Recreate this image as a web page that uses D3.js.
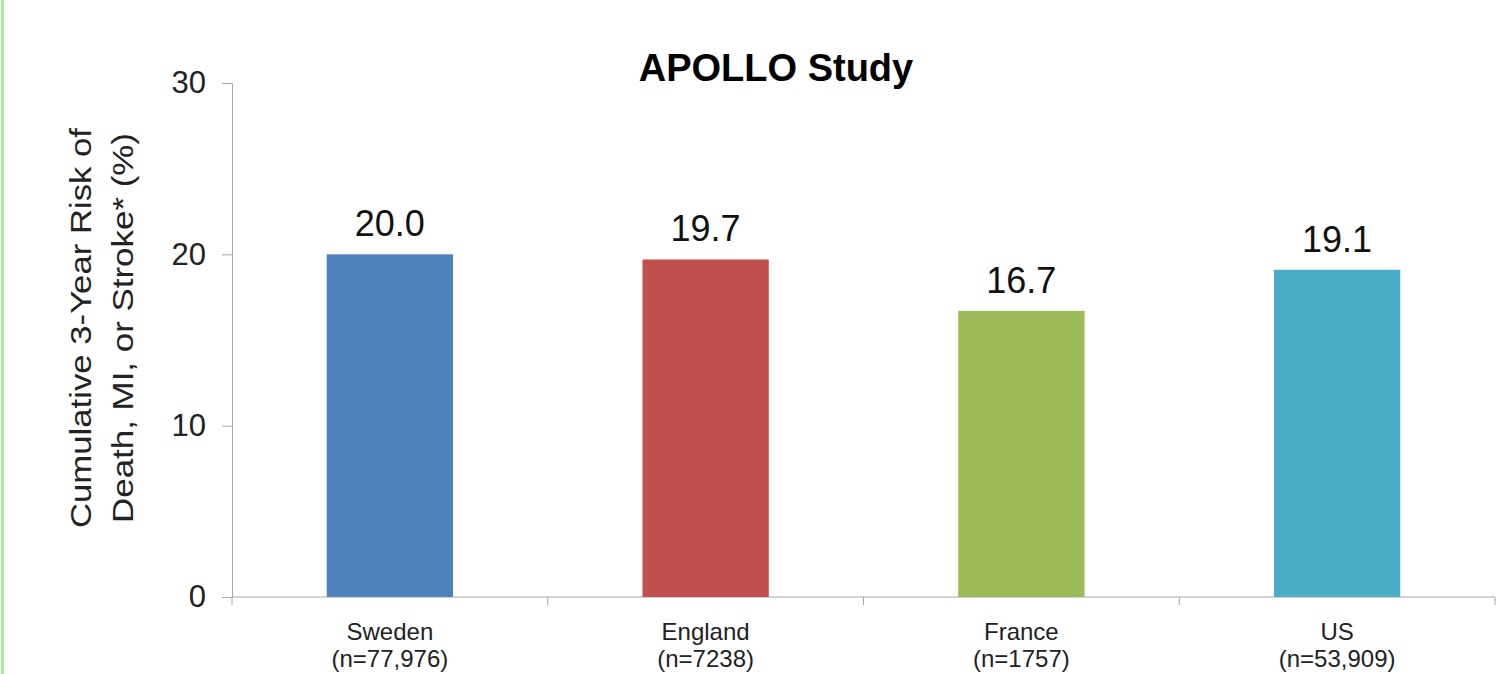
<!DOCTYPE html>
<html>
<head>
<meta charset="utf-8">
<script src="https://cdn.jsdelivr.net/npm/d3@7"></script>
<style>
  body { margin: 0; background: #fff; }
  svg { display: block; font-family: "Liberation Sans", Arial, sans-serif; }
</style>
</head>
<body>
<div id="chart"></div>
<script>
// chart data
const countries = ["Sweden", "England", "France", "US"];
const sampleSizes = ["(n=77,976)", "(n=7238)", "(n=1757)", "(n=53,909)"];
const risks = [20.0, 19.7, 16.7, 19.1];
const barColors = ["#4F81BD", "#C0504D", "#9BBB59", "#4BACC6"];
const yTicks = [0, 10, 20, 30];

const width = 1498, height = 674;
const plotLeft = 232, plotRight = 1495, plotTop = 83, plotBottom = 597;

const svg = d3.select("#chart")
    .append("svg")
    .attr("width", width)
    .attr("height", height);

// green strip on the left edge
svg.append("rect")
    .attr("x", 1).attr("y", 0)
    .attr("width", 3).attr("height", height)
    .attr("fill", "#a6eea6");

const x = d3.scaleBand()
    .domain(countries)
    .range([plotLeft, plotRight])
    .paddingInner(0.6)
    .paddingOuter(0.3);

const y = d3.scaleLinear()
    .domain([0, 30])
    .range([plotBottom, plotTop]);

// y axis
const yAxis = svg.append("g")
    .attr("transform", `translate(${plotLeft},0)`)
    .call(d3.axisLeft(y).tickValues(yTicks).tickSize(10).tickPadding(16));
yAxis.select(".domain").attr("stroke", "#a6a6a6");
yAxis.selectAll(".tick line").attr("stroke", "#a6a6a6");
yAxis.selectAll(".tick text")
    .attr("font-size", 31)
    .attr("fill", "#222")
    .attr("font-family", "Liberation Sans, Arial, sans-serif");

// x axis line with boundary ticks
svg.append("line")
    .attr("x1", plotLeft).attr("x2", plotRight)
    .attr("y1", plotBottom).attr("y2", plotBottom)
    .attr("stroke", "#a6a6a6");

const step = x.step();
const boundaries = d3.range(countries.length + 1).map(i => plotLeft + i * step);
svg.selectAll(".xtick")
    .data(boundaries)
    .enter()
    .append("line")
    .attr("x1", d => d).attr("x2", d => d)
    .attr("y1", plotBottom).attr("y2", plotBottom + 8)
    .attr("stroke", "#a6a6a6");

// bars
svg.selectAll(".bar")
    .data(countries)
    .enter()
    .append("rect")
    .attr("x", d => x(d))
    .attr("y", (d, i) => y(risks[i]))
    .attr("width", x.bandwidth())
    .attr("height", (d, i) => plotBottom - y(risks[i]))
    .attr("fill", (d, i) => barColors[i]);

// value labels
svg.selectAll(".val")
    .data(countries)
    .enter()
    .append("text")
    .attr("x", d => x(d) + x.bandwidth() / 2)
    .attr("y", (d, i) => y(risks[i]) - 18)
    .attr("text-anchor", "middle")
    .attr("font-size", 36)
    .attr("fill", "#111")
    .text((d, i) => risks[i].toFixed(1));

// category labels
const cat = svg.selectAll(".cat")
    .data(countries)
    .enter()
    .append("text")
    .attr("text-anchor", "middle")
    .attr("font-size", 24)
    .attr("fill", "#222");
cat.append("tspan")
    .attr("x", d => x(d) + x.bandwidth() / 2)
    .attr("y", 640)
    .text(d => d);
cat.append("tspan")
    .attr("x", d => x(d) + x.bandwidth() / 2)
    .attr("y", 667)
    .text((d, i) => sampleSizes[i]);

// y axis title
const yTitle = svg.append("text")
    .attr("transform", "translate(0,328) rotate(-90)")
    .attr("text-anchor", "middle")
    .attr("font-size", 30)
    .attr("fill", "#222");
yTitle.append("tspan").attr("x", 0).attr("y", 91)
    .attr("textLength", 400).attr("lengthAdjust", "spacingAndGlyphs")
    .text("Cumulative 3-Year Risk of");
yTitle.append("tspan").attr("x", 0).attr("y", 133)
    .attr("textLength", 390).attr("lengthAdjust", "spacingAndGlyphs")
    .text("Death, MI, or Stroke* (%)");

// chart title
svg.append("text")
    .attr("x", 776)
    .attr("y", 81)
    .attr("text-anchor", "middle")
    .attr("font-size", 38)
    .attr("font-weight", "bold")
    .attr("fill", "#000")
    .text("APOLLO Study");
</script>
</body>
</html>
